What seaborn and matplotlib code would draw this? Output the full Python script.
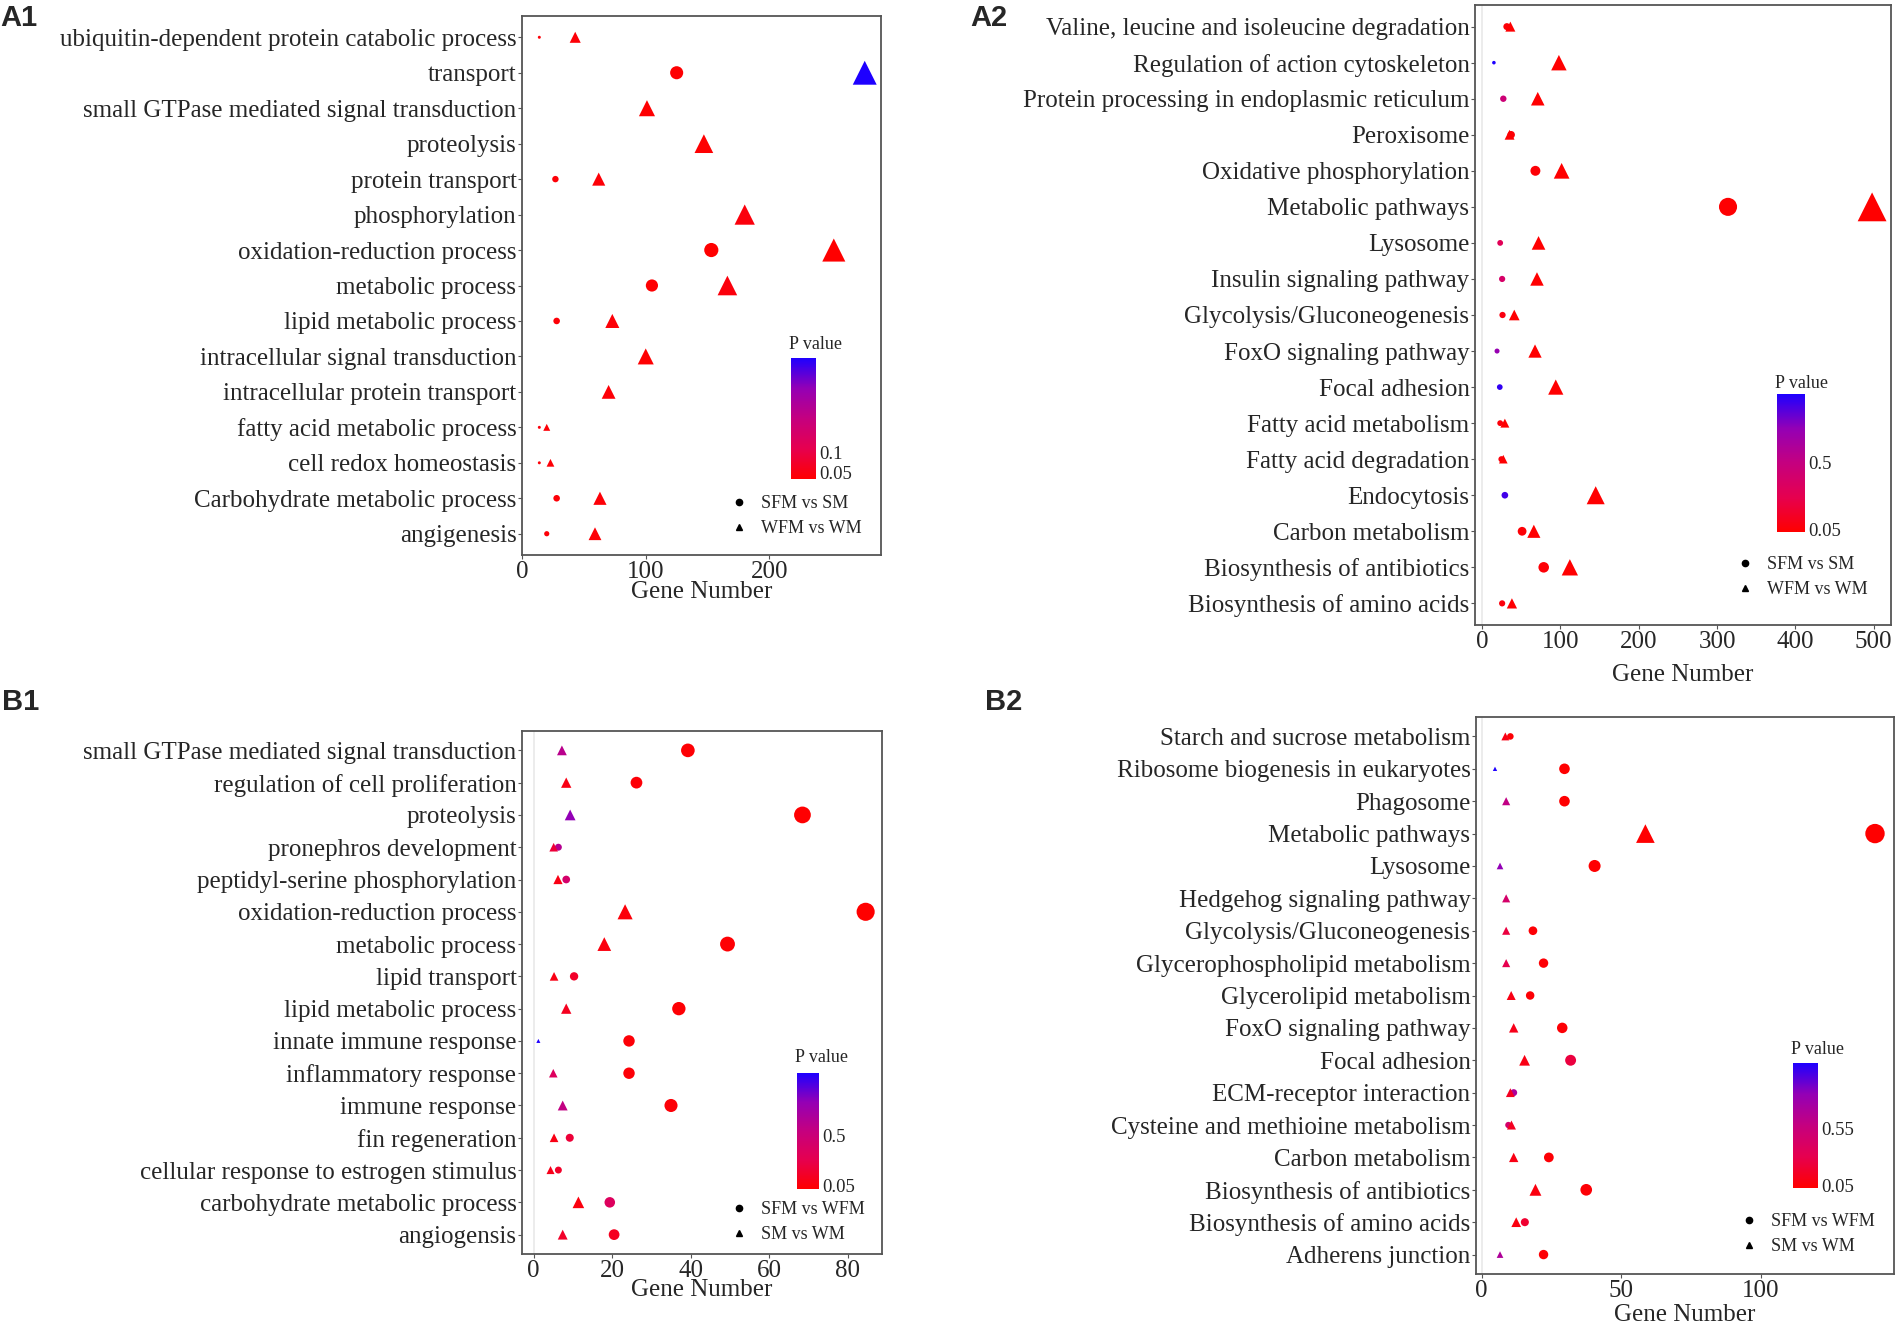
import numpy as np
import pandas as pd
import seaborn as sns
import matplotlib.pyplot as plt
from matplotlib.colors import LinearSegmentedColormap, Normalize, PowerNorm
from matplotlib.cm import ScalarMappable
from matplotlib.lines import Line2D

nan = np.nan

# ---- A1 : GO terms, SFM vs SM (circle) / WFM vs WM (triangle)
a1_terms = ["ubiquitin-dependent protein catabolic process", "transport",
            "small GTPase mediated signal transduction", "proteolysis",
            "protein transport", "phosphorylation", "oxidation-reduction process",
            "metabolic process", "lipid metabolic process",
            "intracellular signal transduction", "intracellular protein transport",
            "fatty acid metabolic process", "cell redox homeostasis",
            "Carbohydrate metabolic process", "angigenesis"]
a1_circ_n = [14, 125, nan, nan, 27, nan, 153, 105, 28, nan, nan, 14, 14, 28, 20]
a1_circ_p = [0.04, 0.035, nan, nan, 0.04, nan, 0.033, 0.035, 0.04, nan, nan, 0.045, 0.04, 0.04, 0.04]
a1_tri_n = [43, 277, 101, 147, 62, 180, 252, 166, 73, 100, 70, 20, 23, 63, 59]
a1_tri_p = [0.04, 0.335, 0.035, 0.035, 0.04, 0.045, 0.0325, 0.045, 0.04, 0.035, 0.04, 0.04, 0.04, 0.04, 0.04]

# ---- A2 : KEGG pathways, SFM vs SM / WFM vs WM
a2_terms = ["Valine, leucine and isoleucine degradation", "Regulation of action cytoskeleton",
            "Protein processing in endoplasmic reticulum", "Peroxisome",
            "Oxidative phosphorylation", "Metabolic pathways", "Lysosome",
            "Insulin signaling pathway", "Glycolysis/Gluconeogenesis",
            "FoxO signaling pathway", "Focal adhesion", "Fatty acid metabolism",
            "Fatty acid degradation", "Endocytosis", "Carbon metabolism",
            "Biosynthesis of antibiotics", "Biosynthesis of amino acids"]
a2_circ_n = [31.5, 15, 27, 37, 68, 314, 23, 25.5, 26, 19, 22.5, 23, 24.6, 29, 51, 78.6, 25.5]
a2_circ_p = [0.05, 0.97, 0.45, 0.05, 0.05, 0.04, 0.30, 0.38, 0.08, 0.72, 0.93, 0.06, 0.06, 0.90, 0.05, 0.05, 0.07]
a2_tri_n = [36, 98, 71, 35, 101.5, 498, 72, 70, 41, 67.5, 94, 29, 27, 145, 66, 112, 38]
a2_tri_p = [0.04, 0.035, 0.035, 0.04, 0.035, 0.03, 0.035, 0.035, 0.04, 0.035, 0.035, 0.04, 0.04, 0.035, 0.035, 0.035, 0.04]

# ---- B1 : GO terms, SFM vs WFM (circle) / SM vs WM (triangle)
b1_terms = ["small GTPase mediated signal transduction", "regulation of cell proliferation",
            "proteolysis", "pronephros development", "peptidyl-serine phosphorylation",
            "oxidation-reduction process", "metabolic process", "lipid transport",
            "lipid metabolic process", "innate immune response", "inflammatory response",
            "immune response", "fin regeneration", "cellular response to estrogen stimulus",
            "carbohydrate metabolic process", "angiogensis"]
b1_circ_n = [39.3, 26.2, 68.5, 6.3, 8.3, 84.6, 49.4, 10.3, 37, 24.3, 24.3, 35, 9.2, 6.3, 19.4, 20.5]
b1_circ_p = [0.03, 0.04, 0.02, 0.62, 0.42, 0.014, 0.03, 0.15, 0.03, 0.04, 0.04, 0.04, 0.2, 0.15, 0.35, 0.12]
b1_tri_n = [7.2, 8.3, 9.3, 5.1, 6.2, 23.3, 18, 5.2, 8.3, 1.2, 5, 7.4, 5.2, 4.3, 11.4, 7.4]
b1_tri_p = [0.6, 0.08, 0.8, 0.2, 0.08, 0.05, 0.06, 0.08, 0.12, 1.06, 0.35, 0.55, 0.08, 0.1, 0.06, 0.15]

# ---- B2 : KEGG pathways, SFM vs WFM / SM vs WM
b2_terms = ["Starch and sucrose metabolism", "Ribosome biogenesis in eukaryotes", "Phagosome",
            "Metabolic pathways", "Lysosome", "Hedgehog signaling pathway",
            "Glycolysis/Gluconeogenesis", "Glycerophospholipid metabolism",
            "Glycerolipid metabolism", "FoxO signaling pathway", "Focal adhesion",
            "ECM-receptor interaction", "Cysteine and methioine metabolism",
            "Carbon metabolism", "Biosynthesis of antibiotics",
            "Biosynthesis of amino acids", "Adherens junction"]
b2_circ_n = [10.3, 29.7, 29.7, 141, 40.5, nan, 18.4, 22.2, 17.4, 28.9, 31.9, 11.5, 9.6, 24.1, 37.5, 15.5, 22.2]
b2_circ_p = [0.05, 0.04, 0.04, 0.032, 0.04, nan, 0.05, 0.05, 0.05, 0.05, 0.25, 0.7, 0.45, 0.05, 0.05, 0.2, 0.05]
b2_tri_n = [8.5, 4.8, 8.8, 58.7, 6.6, 8.8, 8.8, 8.8, 10.6, 11.5, 15.4, 10.3, 10.7, 11.5, 19.3, 12.4, 6.6]
b2_tri_p = [0.1, 1.12, 0.6, 0.04, 0.85, 0.45, 0.25, 0.3, 0.1, 0.12, 0.1, 0.15, 0.15, 0.1, 0.08, 0.08, 0.7]

sns.set_style("white")
plt.rcParams["font.family"] = ["Liberation Serif", "DejaVu Serif"]

W, H = 1900, 1325
fig = plt.figure(figsize=(19, 13.25), dpi=100)

cmap = LinearSegmentedColormap.from_list(
    "pval", ["#FF0000", "#E6004F", "#C5007F", "#9400B5", "#1E00FF"])


def rect(l, t, r, b):
    return [l / W, 1 - b / H, (r - l) / W, (b - t) / H]


def panel(box, terms, cn, cp, tn, tp, labels, xticks, smax, cbox, cticks, ptitle,
          leg_xy, xpad):
    ax = fig.add_axes(rect(*box))
    cat = pd.Categorical(terms, categories=terms, ordered=True)
    circ = pd.DataFrame({"term": cat, "n": cn, "p": cp}).dropna()
    tri = pd.DataFrame({"term": cat, "n": tn, "p": tp}).dropna()
    alln = pd.concat([circ.n, tri.n])
    allp = pd.concat([circ.p, tri.p])
    pnorm = Normalize(allp.min(), allp.max())

    ax.axvline(0, color="#EBEBEB", lw=1.3, zorder=0)
    for df, mk, fac in [(circ, "o", 1.0), (tri, "^", 1.8)]:
        sns.scatterplot(data=df, x="n", y="term", hue="p", size="n",
                        palette=cmap, hue_norm=pnorm,
                        size_norm=PowerNorm(0.75, vmin=alln.min(), vmax=alln.max()),
                        sizes=(smax / 36 * fac, smax * fac),
                        marker=mk, linewidth=0, legend=False, ax=ax, zorder=3)

    rng = alln.max() - alln.min()
    ax.set_xlim(alln.min() - 0.05 * rng, alln.max() + 0.05 * rng)
    ax.set_ylim(len(terms) - 0.4, -0.6)
    ax.set_xticks(xticks)
    ax.set_xlabel("Gene Number", fontsize=18, labelpad=xpad)
    ax.set_ylabel("")
    ax.tick_params(axis="y", labelsize=18, length=3, color="#555555", pad=1, left=True)
    ax.tick_params(axis="x", labelsize=18, length=3, color="#555555", pad=1, bottom=True)
    for s in ax.spines.values():
        s.set_color("#555555")
        s.set_linewidth(1.3)

    # colour bar for P value
    cax = fig.add_axes(rect(*cbox))
    cb = fig.colorbar(ScalarMappable(norm=pnorm, cmap=cmap), cax=cax)
    cb.outline.set_visible(False)
    cb.set_ticks(cticks)
    cb.set_ticklabels([str(t) for t in cticks])
    cax.tick_params(axis="y", direction="in", color="white", length=4, width=1,
                    left=True, right=True, labelsize=13.5, pad=2)
    fig.text((cbox[0] - 2) / W, 1 - ptitle / H, "P value", fontsize=13,
             ha="left", va="center")

    handles = [Line2D([], [], marker="o", color="black", linestyle="", markersize=4.5),
               Line2D([], [], marker="^", color="black", linestyle="", markersize=4.5)]
    fig.legend(handles, labels, loc="upper left",
               bbox_to_anchor=(leg_xy[0] / W, 1 - leg_xy[1] / H),
               frameon=False, fontsize=13, borderpad=0, borderaxespad=0,
               handlelength=0.8, handletextpad=0.8, labelspacing=0.45)
    return ax


panel((522, 16, 881, 555), a1_terms, a1_circ_n, a1_circ_p, a1_tri_n, a1_tri_p,
      ["SFM vs SM", "WFM vs WM"], [0, 100, 200], 165,
      (791, 358, 816, 479), [0.05, 0.1], 345, (732, 495), -1)
panel((1475, 5, 1891, 625), a2_terms, a2_circ_n, a2_circ_p, a2_tri_n, a2_tri_p,
      ["SFM vs SM", "WFM vs WM"], [0, 100, 200, 300, 400, 500], 240,
      (1777, 394, 1805, 532), [0.05, 0.5], 383, (1738, 556), 8)
panel((522, 731, 882, 1254), b1_terms, b1_circ_n, b1_circ_p, b1_tri_n, b1_tri_p,
      ["SFM vs WFM", "SM vs WM"], [0, 20, 40, 60, 80], 170,
      (797, 1073, 819, 1189), [0.05, 0.5], 1057, (732, 1201), -2)
panel((1476, 717, 1894, 1274), b2_terms, b2_circ_n, b2_circ_p, b2_tri_n, b2_tri_p,
      ["SFM vs WFM", "SM vs WM"], [0, 50, 100], 195,
      (1793, 1063, 1818, 1188), [0.05, 0.55], 1050, (1742, 1213), 2)

for lab, x, y in [("A1", 0, 4), ("A2", 970, 4), ("B1", 2, 688), ("B2", 985, 688)]:
    fig.text(x / W, 1 - y / H, lab, fontsize=21, fontweight="bold",
             family="Liberation Sans", ha="left", va="top")

fig.savefig("out.png", dpi=100)
